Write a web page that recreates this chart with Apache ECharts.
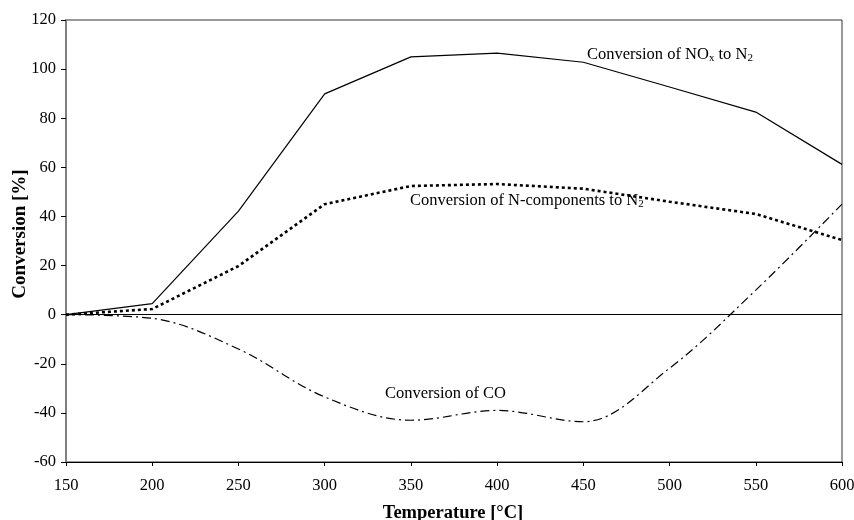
<!DOCTYPE html>
<html><head><meta charset="utf-8">
<script src="https://cdn.jsdelivr.net/npm/echarts@6/dist/echarts.min.js"></script>
<style>html,body{margin:0;padding:0;background:#fff}#c{width:854px;height:520px}</style>
</head><body><div id="c"></div>
<script>
const temperatures = [150, 200, 250, 300, 350, 400, 450, 500, 550, 600];
const noxToN2 = [0, 4.5, 42.2, 89.9, 105, 106.5, 102.8, 92.7, 82.5, 61.2];
const nCompToN2 = [0, 2.3, 19.8, 45, 52.4, 53.2, 51.3, 46, 41, 30.4];
const coConv = [0, -1.5, -14, -33.5, -43, -39, -43.6, -21.8, 10, 45];
const xTicks = [150, 200, 250, 300, 350, 400, 450, 500, 550, 600];
const yTicks = [-60, -40, -20, 0, 20, 40, 60, 80, 100, 120];

const pair = arr => temperatures.map((t, i) => [t, arr[i]]);
const font = '"Liberation Serif","DejaVu Serif",serif';
const chart = echarts.init(document.getElementById('c'));
const rich = {
  n: {fontFamily: font, fontSize: 16.5, fill: '#000'},
  s: {fontFamily: font, fontSize: 11, fill: '#000', verticalAlign: 'bottom', padding: [7, 0, 0, 0]}
};
chart.setOption({
  animation: false,
  grid: {left: 66, right: 12, top: 20, bottom: 58, containLabel: false, outerBoundsMode: 'none', show: true, borderColor: '#333', borderWidth: 1},
  xAxis: {
    type: 'value', min: xTicks[0], max: xTicks[xTicks.length - 1], interval: 50,
    axisLine: {onZero: false, lineStyle: {color: '#000', width: 1}},
    axisTick: {show: true, length: 4, lineStyle: {color: '#000'}},
    axisLabel: {fontFamily: font, fontSize: 16.5, color: '#000', margin: 15},
    splitLine: {show: false}
  },
  yAxis: {
    type: 'value', min: yTicks[0], max: yTicks[yTicks.length - 1], interval: 20,
    axisLine: {show: true, lineStyle: {color: '#808080', width: 2}},
    axisTick: {show: true, length: 5, lineStyle: {color: '#000'}},
    axisLabel: {fontFamily: font, fontSize: 16.5, color: '#000', margin: 10},
    splitLine: {show: false}
  },
  series: [
    {type: 'line', data: pair(noxToN2), symbol: 'none', lineStyle: {color: '#000', width: 1.2},
     markLine: {silent: true, symbol: 'none', label: {show: false}, lineStyle: {color: '#000', width: 1, type: 'solid'}, data: [{yAxis: 0}]}},
    {type: 'line', data: pair(nCompToN2), symbol: 'none', lineStyle: {color: '#000', width: 2.6, type: [3, 3]}},
    {type: 'line', data: pair(coConv), symbol: 'none', smooth: 0.35, lineStyle: {color: '#000', width: 1.2, type: [9, 4, 2, 4]}}
  ],
  graphic: [
    {type: 'text', left: 587, top: 46, style: {rich: rich, text: '{n|Conversion of NO}{s|x}{n| to N}{s|2}'}},
    {type: 'text', left: 410, top: 192, style: {rich: rich, text: '{n|Conversion of N-components to N}{s|2}'}},
    {type: 'text', left: 385, top: 385, style: {text: 'Conversion of CO', fontFamily: font, fontSize: 16.5, fill: '#000'}},
    {type: 'text', x: 453, y: 513, style: {text: 'Temperature [°C]', fontFamily: font, fontSize: 18.5, fontWeight: 'bold', fill: '#000', align: 'center', verticalAlign: 'middle'}},
    {type: 'text', x: 20, y: 234, rotation: Math.PI / 2, style: {text: 'Conversion [%]', fontFamily: font, fontSize: 19, fontWeight: 'bold', fill: '#000', align: 'center', verticalAlign: 'middle'}}
  ]
});
</script></body></html>
